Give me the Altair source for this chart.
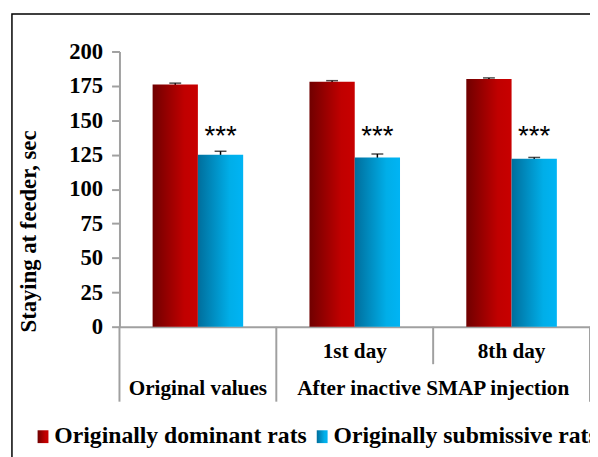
import altair as alt
import pandas as pd

categories = ["Original values", "1st day", "8th day"]
series = ["Originally dominant rats", "Originally submissive rats"]
dominant = [176, 178, 180]
dominant_err = [1.0, 0.8, 0.8]
submissive = [125, 123, 122]
submissive_err = [2.5, 2.5, 1.0]
significance = ["***", "***", "***"]
sub_labels = ["", "1st day", "8th day"]
group_labels = ["Original values", "After inactive SMAP injection"]
y_ticks = [0, 25, 50, 75, 100, 125, 150, 175, 200]

FONT = "Liberation Serif"
GRAY = "#a0a0a0"

rows = []
for i, c in enumerate(categories):
    rows.append({"cat": c, "series": series[0], "value": dominant[i], "err": dominant_err[i], "sig": ""})
    rows.append({"cat": c, "series": series[1], "value": submissive[i], "err": submissive_err[i], "sig": significance[i]})
df = pd.DataFrame(rows)
df["lo"] = df["value"] - df["err"]
df["hi"] = df["value"] + df["err"]

red_grad = alt.LinearGradient(gradient="linear", x1=0, y1=0, x2=1, y2=0,
                              stops=[alt.GradientStop(color="#700000", offset=0),
                                     alt.GradientStop(color="#c00000", offset=0.7),
                                     alt.GradientStop(color="#c80000", offset=1)])
blue_grad = alt.LinearGradient(gradient="linear", x1=0, y1=0, x2=1, y2=0,
                               stops=[alt.GradientStop(color="#006e9c", offset=0),
                                      alt.GradientStop(color="#00aee8", offset=0.7),
                                      alt.GradientStop(color="#00b4f4", offset=1)])

xs = alt.Scale(domain=categories, paddingInner=0, paddingOuter=0)
x_enc = alt.X("cat:N", scale=xs, sort=categories,
              axis=alt.Axis(labels=False, ticks=False, title=None, domainColor=GRAY, domainWidth=2))
xo_enc = alt.XOffset("series:N", scale=alt.Scale(domain=series, paddingInner=0, paddingOuter=0.732))
ys = alt.Scale(domain=[0, 200])
y_axis = alt.Axis(values=y_ticks, title="Staying at feeder, sec", grid=False, labelOverlap=False,
                  domainColor=GRAY, domainWidth=2, tickColor=GRAY, tickWidth=2, tickSize=8,
                  labelFont=FONT, labelFontWeight="bold", labelFontSize=23, labelColor="black",
                  labelPadding=9,
                  titleFont=FONT, titleFontWeight="bold", titleFontSize=23, titleColor="black",
                  titleX=-80, titleY=182)
y_enc = alt.Y("value:Q", scale=ys, axis=y_axis)

base = alt.Chart(df)

err_rule = base.mark_rule(color="black", strokeWidth=1.5).encode(
    x=x_enc, xOffset=xo_enc, y=alt.Y("lo:Q", scale=ys, axis=y_axis), y2="hi:Q")
err_cap = base.mark_tick(color="black", thickness=1.5, size=12).encode(
    x=x_enc, xOffset=xo_enc, y=alt.Y("hi:Q", scale=ys, axis=y_axis))

bars_dom = base.mark_bar(color=red_grad).encode(x=x_enc, xOffset=xo_enc, y=y_enc).transform_filter(
    alt.datum.series == series[0])
bars_sub = base.mark_bar(color=blue_grad).encode(x=x_enc, xOffset=xo_enc, y=y_enc).transform_filter(
    alt.datum.series == series[1])

stars = base.mark_text(font="Liberation Sans", fontSize=28, color="black", baseline="alphabetic").encode(
    x=x_enc, xOffset=xo_enc, y=alt.Y(datum=132, scale=ys, axis=y_axis), text="sig:N").transform_filter(
    alt.datum.series == series[1])

# category axis decorations
lab_df = pd.DataFrame({"cat": categories, "sub": sub_labels})
sub_text = alt.Chart(lab_df).mark_text(font=FONT, fontWeight="bold", fontSize=21.5, color="black",
                                       baseline="middle").encode(
    x=alt.X("cat:N", scale=xs, sort=categories), y=alt.value(305), text="sub:N")

grp1 = alt.Chart(pd.DataFrame({"cat": [categories[0]], "lab": [group_labels[0]]})).mark_text(
    font=FONT, fontWeight="bold", fontSize=21.5, color="black", baseline="middle").encode(
    x=alt.X("cat:N", scale=xs, sort=categories), y=alt.value(342), text="lab:N")
grp2 = alt.Chart(pd.DataFrame({"cat": [categories[1]], "lab": [group_labels[1]]})).mark_text(
    font=FONT, fontWeight="bold", fontSize=21.5, color="black", baseline="middle").encode(
    x=alt.X("cat:N", scale=xs, sort=categories, bandPosition=1), y=alt.value(342), text="lab:N")

sep_long = alt.Chart(pd.DataFrame({"cat": categories[:2]})).mark_rule(color=GRAY, strokeWidth=2).encode(
    x=alt.X("cat:N", scale=xs, sort=categories, bandPosition=0), y=alt.value(279), y2=alt.value(355))
sep_short = alt.Chart(pd.DataFrame({"cat": categories[2:]})).mark_rule(color=GRAY, strokeWidth=2).encode(
    x=alt.X("cat:N", scale=xs, sort=categories, bandPosition=0), y=alt.value(279), y2=alt.value(317))
sep_end = alt.Chart(pd.DataFrame({"cat": categories[2:]})).mark_rule(color=GRAY, strokeWidth=2).encode(
    x=alt.X("cat:N", scale=xs, sort=categories, bandPosition=1), y=alt.value(279), y2=alt.value(355))

# legend
dummy = pd.DataFrame({"a": [0]})
leg_sq1 = alt.Chart(dummy).mark_rect(color=red_grad).encode(
    x=alt.value(-83), x2=alt.value(-72), y=alt.value(384), y2=alt.value(397))
leg_sq2 = alt.Chart(dummy).mark_rect(color=blue_grad).encode(
    x=alt.value(200), x2=alt.value(211), y=alt.value(384), y2=alt.value(397))
leg_df = pd.DataFrame({"series": series})
leg_t1 = alt.Chart(leg_df).mark_text(font=FONT, fontWeight="bold", fontSize=24, color="black",
                                     align="left", baseline="alphabetic").encode(
    x=alt.value(-66), y=alt.value(397), text="series:N").transform_filter(alt.datum.series == series[0])
leg_t2 = alt.Chart(leg_df).mark_text(font=FONT, fontWeight="bold", fontSize=24, color="black",
                                     align="left", baseline="alphabetic").encode(
    x=alt.value(217), y=alt.value(397), text="series:N").transform_filter(alt.datum.series == series[1])

border = alt.Chart(dummy).mark_rect(fill=None, stroke="black", strokeWidth=1.5).encode(
    x=alt.value(-109), x2=alt.value(620), y=alt.value(-38), y2=alt.value(480))

chart = alt.layer(
    border, err_rule, err_cap, bars_dom, bars_sub, stars,
    sep_long, sep_short, sep_end, sub_text, grp1, grp2,
    leg_sq1, leg_sq2, leg_t1, leg_t2
).properties(
    width=477, height=279,
    autosize=alt.AutoSizeParams(type="none"),
    padding={"left": 113, "top": 41, "right": 0, "bottom": 129},
).configure_view(stroke=None)

chart.save("out.html", embed_options={"renderer": "svg", "actions": False})
